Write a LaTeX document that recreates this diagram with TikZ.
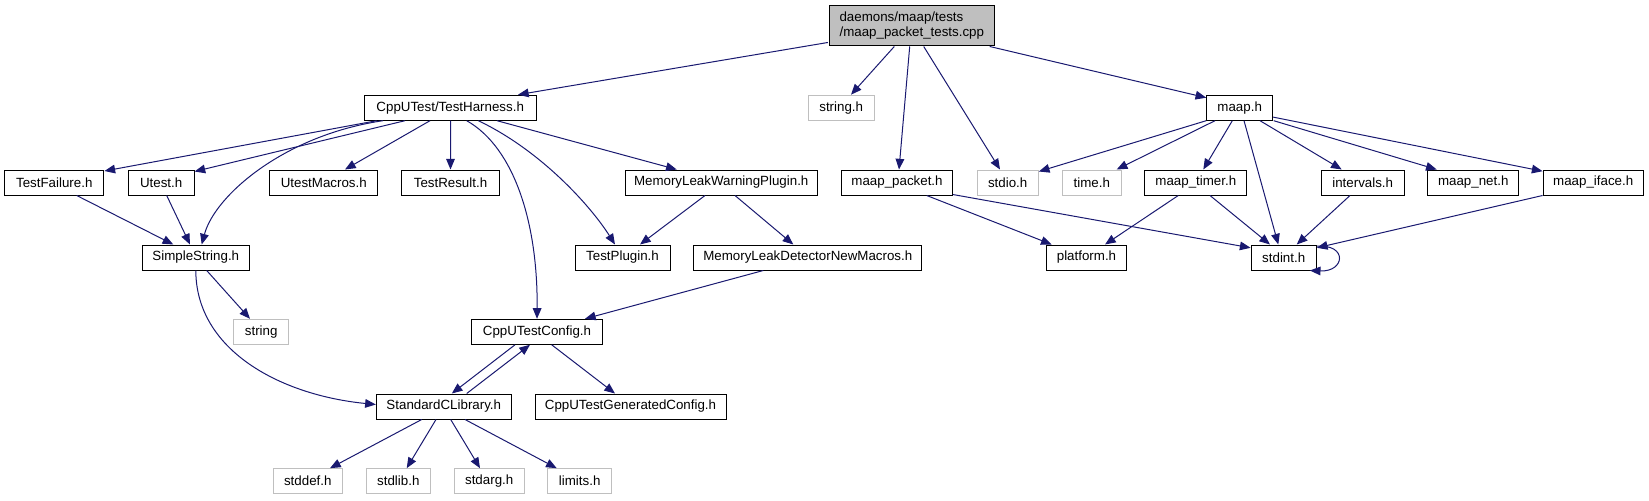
\documentclass[tikz,border=0pt]{standalone}
\usepackage{fontspec}
\setmainfont{Liberation Sans}
\usetikzlibrary{arrows.meta,calc}
\definecolor{edgeblue}{HTML}{191970}
\definecolor{greyb}{HTML}{BFBFBF}
\begin{document}
\begin{tikzpicture}[x=0.75pt,y=-0.75pt,
  box/.style={draw=black, line width=0.75pt, fill=white, rectangle, inner sep=0pt,
    minimum height=18.75pt, font=\fontsize{10}{12}\selectfont, text=black},
  gbox/.style={box, draw=greyb},
  bw/.style={minimum width=#1*0.75pt},
  dep/.style={draw=edgeblue, line width=0.75pt, -{Triangle[length=8pt,width=6.5pt]}}]
\useasboundingbox (0,0) rectangle (1649,500);
% row 1
\node[box, fill=greyb, bw=165, minimum height=30.2pt, align=left,
  font=\fontsize{10}{11.25}\selectfont] (root) at (911.8,25.85)
  {daemons/maap/tests\\/maap\_packet\_tests.cpp};
% row 2
\node[box, bw=171.7] (th) at (450.2,107.7) {CppUTest/TestHarness.h};
\node[gbox, bw=65.7] (stringh) at (841.2,107.7) {string.h};
\node[box, bw=66] (maaph) at (1239.7,107.7) {maap.h};
% row 3
\node[box, bw=99.3] (tf) at (54.3,182.5) {TestFailure.h};
\node[box, bw=65.7] (ut) at (161.2,182.5) {Utest.h};
\node[box, bw=108.3] (um) at (323.8,182.5) {UtestMacros.h};
\node[box, bw=97.6] (tr) at (450.5,182.5) {TestResult.h};
\node[box, bw=192.3] (mlwp) at (721.2,182.5) {MemoryLeakWarningPlugin.h};
\node[box, bw=110.6] (mpk) at (897,182.5) {maap\_packet.h};
\node[gbox, bw=61.3] (stdio) at (1007.7,182.5) {stdio.h};
\node[gbox, bw=59] (timeh) at (1091.8,182.5) {time.h};
\node[box, bw=101.7] (mt) at (1195.8,182.5) {maap\_timer.h};
\node[box, bw=82.7] (iv) at (1362.7,182.5) {intervals.h};
\node[box, bw=91] (mn) at (1473.2,182.5) {maap\_net.h};
\node[box, bw=100.3] (mi) at (1593.2,182.5) {maap\_iface.h};
% row 4
\node[box, bw=107] (ss) at (195.8,257.5) {SimpleString.h};
\node[box, bw=95] (tp) at (622.5,257.5) {TestPlugin.h};
\node[box, bw=228.3] (mldn) at (807.8,257.5) {MemoryLeakDetectorNewMacros.h};
\node[box, bw=80.4] (plat) at (1086.5,257.5) {platform.h};
\node[box, bw=65.3] (stdint) at (1283.7,257.5) {stdint.h};
% row 5
\node[gbox, bw=55] (strg) at (261.2,331.8) {string};
\node[box, bw=130.6] (cfg) at (537,331.8) {CppUTestConfig.h};
% row 6
\node[box, bw=135] (scl) at (443.8,406.5) {StandardCLibrary.h};
\node[box, bw=191] (gen) at (630.5,406.5) {CppUTestGeneratedConfig.h};
% row 7
\node[gbox, bw=69] (stddef) at (307.8,481.2) {stddef.h};
\node[gbox, bw=64] (stdlib) at (398.3,481.2) {stdlib.h};
\node[gbox, bw=69.7] (stdarg) at (489.2,481.2) {stdarg.h};
\node[gbox, bw=64] (limits) at (579.7,481.2) {limits.h};

% edges from root
\draw[dep] ($(root.south west)+(-1,-4)$) -- ($(th.north)+(67.8,0)$);
\draw[dep] ($(root.south)+(-17.5,0)$) -- ($(stringh.north)+(9.8,0)$);
\draw[dep] ($(root.south)+(-2.1,0)$) -- ($(mpk.north)+(2,0)$);
\draw[dep] ($(root.south)+(11.9,0)$) -- ($(stdio.north)+(-7.7,0)$);
\draw[dep] ($(root.south)+(77.9,0)$) -- ($(maaph.north west)+(0,3)$);
% edges from TestHarness
\draw[dep] ($(th.south)+(-73.5,0)$) -- ($(tf.north east)+(0,1.5)$);
\draw[dep] ($(th.south)+(-45.2,0)$) -- ($(ut.north east)+(0,2)$);
\draw[dep] ($(th.south)+(-67.2,0)$) .. controls (285,135) and (215,195) .. ($(ss.north)+(5.9,0)$);
\draw[dep] ($(th.south)+(-20.2,0)$) -- ($(um.north)+(21.2,0)$);
\draw[dep] ($(th.south)+(0.3,0)$) -- (tr.north);
\draw[dep] ($(th.south)+(16.5,0)$) .. controls (515,148) and (538,225) .. (cfg.north);
\draw[dep] ($(th.south)+(28.1,0)$) .. controls (540,150) and (590,205) .. ($(tp.north)+(-7.5,0)$);
\draw[dep] ($(th.south)+(46.8,0)$) -- ($(mlwp.north)+(-44.5,0)$);
% others left part
\draw[dep] ($(tf.south)+(22.4,0)$) -- ($(ss.north)+(-22.5,0)$);
\draw[dep] ($(ut.south)+(5.5,0)$) -- ($(ss.north)+(-5.8,0)$);
\draw[dep] ($(ss.south)+(10.9,0)$) -- ($(strg.north)+(-11.2,0)$);
\draw[dep] (ss.south) .. controls (196,350) and (280,395) .. ($(scl.west)+(0,-2)$);
\draw[dep] ($(mlwp.south)+(-16.2,0)$) -- ($(tp.north)+(17.5,0)$);
\draw[dep] ($(mlwp.south)+(13.8,0)$) -- ($(mldn.north)+(-14.5,0)$);
\draw[dep] ($(mldn.south)+(-44.5,0)$) -- ($(cfg.north)+(48,0)$);
\draw[dep] ($(cfg.south)+(14.7,0)$) -- ($(gen.north)+(-15.5,0)$);
\draw[dep] ($(cfg.south)+(-22,0)$) -- ($(scl.north)+(8,0)$);
\draw[dep] ($(scl.north)+(22.9,0)$) -- ($(cfg.south)+(-7,0)$);
\draw[dep] ($(scl.south)+(-22.1,0)$) -- ($(stddef.north)+(22.2,0)$);
\draw[dep] ($(scl.south)+(-7.8,0)$) -- ($(stdlib.north)+(8.4,0)$);
\draw[dep] ($(scl.south)+(6.9,0)$) -- ($(stdarg.north)+(-9.2,0)$);
\draw[dep] ($(scl.south)+(21.2,0)$) -- ($(limits.north)+(-23,0)$);
% right part
\draw[dep] ($(mpk.south)+(29.7,0)$) -- ($(plat.north)+(-34.8,0)$);
\draw[dep] ($(mpk.south east)+(0,-1)$) -- ($(stdint.north west)+(0,3.3)$);
\draw[dep] (maaph.south west) -- ($(stdio.north east)+(0,2)$);
\draw[dep] ($(maaph.south)+(-24.7,0)$) -- ($(timeh.north)+(24.9,0)$);
\draw[dep] ($(maaph.south)+(-7.4,0)$) -- ($(mt.north)+(7.5,0)$);
\draw[dep] ($(maaph.south)+(4.3,0)$) -- ($(stdint.north)+(-5.4,0)$);
\draw[dep] ($(maaph.south)+(20.3,0)$) -- ($(iv.north)+(-21,0)$);
\draw[dep] ($(maaph.south east)+(0.5,0)$) -- ($(mn.north)+(-36.5,0)$);
\draw[dep] ($(maaph.south east)+(0,-3.6)$) -- ($(mi.north west)+(0,1.7)$);
\draw[dep] ($(mt.south)+(-17.5,0)$) -- ($(plat.north)+(18.5,0)$);
\draw[dep] ($(mt.south)+(14.2,0)$) -- ($(stdint.north)+(-13.7,0)$);
\draw[dep] ($(iv.south)+(-12.7,0)$) -- ($(stdint.north)+(13,0)$);
\draw[dep] (mi.south west) -- ($(stdint.north east)+(0,3.3)$);
\draw[dep] ($(stdint.north east)+(0,1.7)$) .. controls (1348,244) and (1345,272) .. ($(stdint.south east)+(-7,0)$);
\end{tikzpicture}
\end{document}
